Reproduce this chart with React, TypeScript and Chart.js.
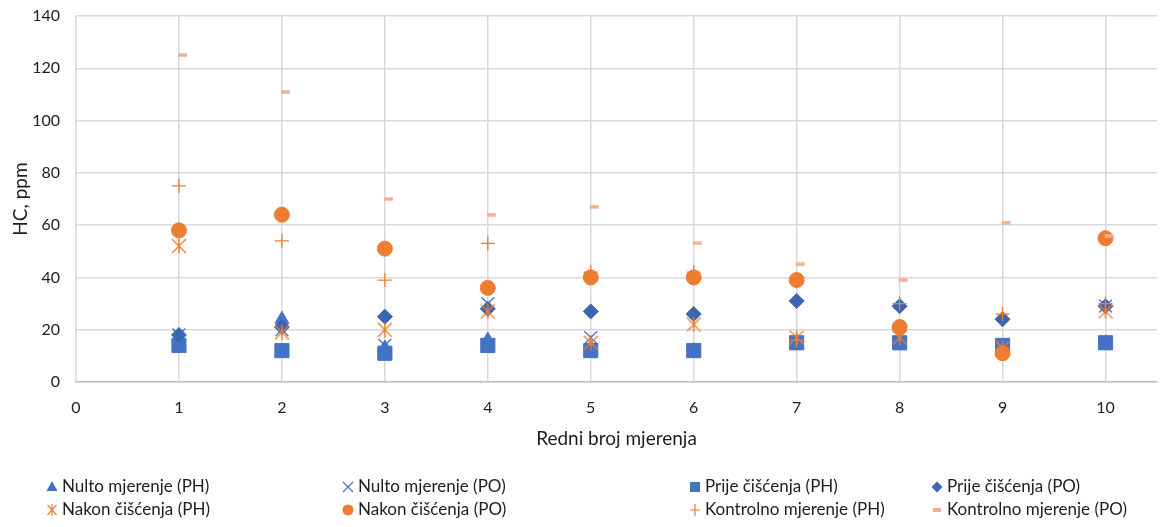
import React, { useEffect, useRef } from 'react';
import { Chart, registerables } from 'chart.js';

Chart.register(...registerables);

// ---- data ----
const measurementNo = [1, 2, 3, 4, 5, 6, 7, 8, 9, 10];
const nultoPH = [16, 24, 13, 16, 13, 12, 15, 15, 13, 15];
const nultoPO = [18, 20, 14, 30, 17, 12, 15, 15, 14, 29];
const prijePH = [14, 12, 11, 14, 12, 12, 15, 15, 14, 15];
const prijePO = [18, 21, 25, 28, 27, 26, 31, 29, 24, 29];
const nakonPH = [52, 19, 20, 27, 15, 22, 17, 17, 13, 27];
const nakonPO = [58, 64, 51, 36, 40, 40, 39, 21, 11, 55];
const kontrolnoPH = [75, 54, 39, 53, 42, 42, 16, 30, 26, 30];
const kontrolnoPO = [125, 111, 70, 64, 67, 53, 45, 39, 61, 56];

const seriesLabels = [
  'Nulto mjerenje (PH)',
  'Nulto mjerenje (PO)',
  'Prije čišćenja (PH)',
  'Prije čišćenja (PO)',
  'Nakon čišćenja (PH)',
  'Nakon čišćenja (PO)',
  'Kontrolno mjerenje (PH)',
  'Kontrolno mjerenje (PO)',
];
const yTicks = [0, 20, 40, 60, 80, 100, 120, 140];
const xTicks = [0, 1, 2, 3, 4, 5, 6, 7, 8, 9, 10];

const BLUE = '#4472C4';
const DBLUE = '#3B65B0';
const ORANGE = '#ED7D31';
const LORANGE = '#F4AE8C';
const FONT = 'Lato, "Open Sans", sans-serif';
const TEXT = '#1e1e1e';

function makeAsterisk(color: string) {
  const c = document.createElement('canvas');
  c.width = 16; c.height = 16;
  const g = c.getContext('2d')!;
  g.strokeStyle = color; g.lineWidth = 1.4;
  g.beginPath();
  g.moveTo(1, 1); g.lineTo(15, 15);
  g.moveTo(15, 1); g.lineTo(1, 15);
  g.moveTo(8, 0.5); g.lineTo(8, 15.5);
  g.stroke();
  return c;
}
function makeDash(color: string) {
  const c = document.createElement('canvas');
  c.width = 18; c.height = 4;
  const g = c.getContext('2d')!;
  g.fillStyle = color;
  g.fillRect(8, 0.3, 9, 3.4);
  return c;
}

function drawMarker(ctx: CanvasRenderingContext2D, type: string, x: number, y: number, color: string) {
  ctx.save();
  ctx.fillStyle = color; ctx.strokeStyle = color; ctx.lineWidth = 1.2;
  ctx.beginPath();
  switch (type) {
    case 'triangle':
      ctx.moveTo(x, y - 6); ctx.lineTo(x + 5.5, y + 4); ctx.lineTo(x - 5.5, y + 4); ctx.closePath(); ctx.fill(); break;
    case 'x':
      ctx.moveTo(x - 5, y - 5); ctx.lineTo(x + 5, y + 5); ctx.moveTo(x + 5, y - 5); ctx.lineTo(x - 5, y + 5); ctx.stroke(); break;
    case 'square':
      ctx.fillRect(x - 5, y - 5, 10, 10); break;
    case 'diamond':
      ctx.moveTo(x, y - 5.5); ctx.lineTo(x + 5.5, y); ctx.lineTo(x, y + 5.5); ctx.lineTo(x - 5.5, y); ctx.closePath(); ctx.fill(); break;
    case 'asterisk':
      ctx.moveTo(x - 4.5, y - 5); ctx.lineTo(x + 4.5, y + 5); ctx.moveTo(x + 4.5, y - 5); ctx.lineTo(x - 4.5, y + 5);
      ctx.moveTo(x, y - 6); ctx.lineTo(x, y + 6); ctx.stroke(); break;
    case 'circle':
      ctx.arc(x, y, 5.5, 0, Math.PI * 2); ctx.fill(); break;
    case 'plus':
      ctx.moveTo(x - 5, y); ctx.lineTo(x + 5, y); ctx.moveTo(x, y - 6); ctx.lineTo(x, y + 6); ctx.stroke(); break;
    case 'dash':
      ctx.fillRect(x - 4, y - 2, 8, 4); break;
  }
  ctx.restore();
}

const legendMarkers = ['triangle', 'x', 'square', 'diamond', 'asterisk', 'circle', 'plus', 'dash'];
const legendColors = [BLUE, BLUE, BLUE, DBLUE, ORANGE, ORANGE, ORANGE, LORANGE];

const gridLegendPlugin = {
  id: 'gridLegend',
  afterDraw(chart: any) {
    const ctx = chart.ctx as CanvasRenderingContext2D;
    const colX = [52, 348, 695, 937];
    const rowY = [487, 510];
    ctx.save();
    ctx.font = `17px ${FONT}`;
    ctx.fillStyle = TEXT;
    ctx.textBaseline = 'middle';
    ctx.textAlign = 'left';
    seriesLabels.forEach((label, i) => {
      const cx = colX[i % 4];
      const cy = rowY[Math.floor(i / 4)];
      drawMarker(ctx, legendMarkers[i], cx, cy, legendColors[i]);
      ctx.fillStyle = TEXT;
      ctx.fillText(label, cx + 10, cy);
    });
    ctx.restore();
  },
};

export default function App() {
  const ref = useRef<HTMLCanvasElement | null>(null);

  useEffect(() => {
    if (!ref.current) return;
    const asterisk = makeAsterisk(ORANGE);
    const dash = makeDash(LORANGE);
    const pts = (vals: number[]) => measurementNo.map((x, i) => ({ x, y: vals[i] }));
    const n = 8;
    const ds = (i: number, data: number[], extra: any) => ({
      label: seriesLabels[i],
      data: pts(data),
      showLine: false,
      order: n - i,
      ...extra,
    });
    const chart = new Chart(ref.current, {
      type: 'scatter',
      data: {
        datasets: [
          ds(0, nultoPH, { pointStyle: 'triangle', pointRadius: 8, backgroundColor: BLUE, borderColor: BLUE, borderWidth: 1 }),
          ds(1, nultoPO, { pointStyle: 'crossRot', pointRadius: 9, backgroundColor: BLUE, borderColor: BLUE, borderWidth: 1.3 }),
          ds(2, prijePH, { pointStyle: 'rect', pointRadius: 10, backgroundColor: BLUE, borderColor: BLUE, borderWidth: 1 }),
          ds(3, prijePO, { pointStyle: 'rectRot', pointRadius: 7.5, backgroundColor: DBLUE, borderColor: DBLUE, borderWidth: 1 }),
          ds(4, nakonPH, { pointStyle: asterisk, pointRadius: 8, backgroundColor: ORANGE, borderColor: ORANGE }),
          ds(5, nakonPO, { pointStyle: 'circle', pointRadius: 7.5, backgroundColor: ORANGE, borderColor: ORANGE, borderWidth: 1 }),
          ds(6, kontrolnoPH, { pointStyle: 'cross', pointRadius: 7, backgroundColor: ORANGE, borderColor: ORANGE, borderWidth: 1.3 }),
          ds(7, kontrolnoPO, { pointStyle: dash, pointRadius: 6, backgroundColor: LORANGE, borderColor: LORANGE }),
        ],
      },
      options: {
        responsive: false,
        animation: false,
        layout: { padding: { top: 16, right: 8, bottom: 77, left: 0 } },
        plugins: { legend: { display: false }, tooltip: { enabled: false } },
        scales: {
          x: {
            type: 'linear',
            min: 0,
            max: 10.5,
            afterFit: (s: any) => { s.height = 68; },
            afterBuildTicks: (s: any) => { s.ticks = xTicks.map((v) => ({ value: v })); },
            ticks: { includeBounds: false, stepSize: 1, padding: 16, color: TEXT, font: { family: FONT, size: 16 } },
            grid: { color: '#D9D9D9', lineWidth: 1.5, drawTicks: false },
            border: { display: true, color: '#BFBFBF', width: 1.5 },
            title: { display: true, text: 'Redni broj mjerenja', color: TEXT, font: { family: FONT, size: 19 }, padding: { top: 0, bottom: 0 } },
          },
          y: {
            type: 'linear',
            min: 0,
            max: 140,
            afterFit: (s: any) => { s.width = 76; s.paddingTop = 0; s.paddingBottom = 0; },
            afterBuildTicks: (s: any) => { s.ticks = yTicks.map((v) => ({ value: v })); },
            ticks: { stepSize: 20, padding: 16, color: TEXT, font: { family: FONT, size: 16 } },
            grid: { color: '#D9D9D9', lineWidth: 1.5, drawTicks: false },
            border: { display: false },
            title: { display: true, text: 'HC, ppm', color: TEXT, font: { family: FONT, size: 19 }, padding: { top: 9, bottom: 0 } },
          },
        },
      },
      plugins: [gridLegendPlugin],
    });
    return () => chart.destroy();
  }, []);

  return (
    <div style={{ position: 'absolute', left: 0, top: 0, width: 1168, height: 527, background: '#fff' }}>
      <canvas ref={ref} width={1168} height={527} style={{ width: 1168, height: 527, display: 'block' }} />
    </div>
  );
}
